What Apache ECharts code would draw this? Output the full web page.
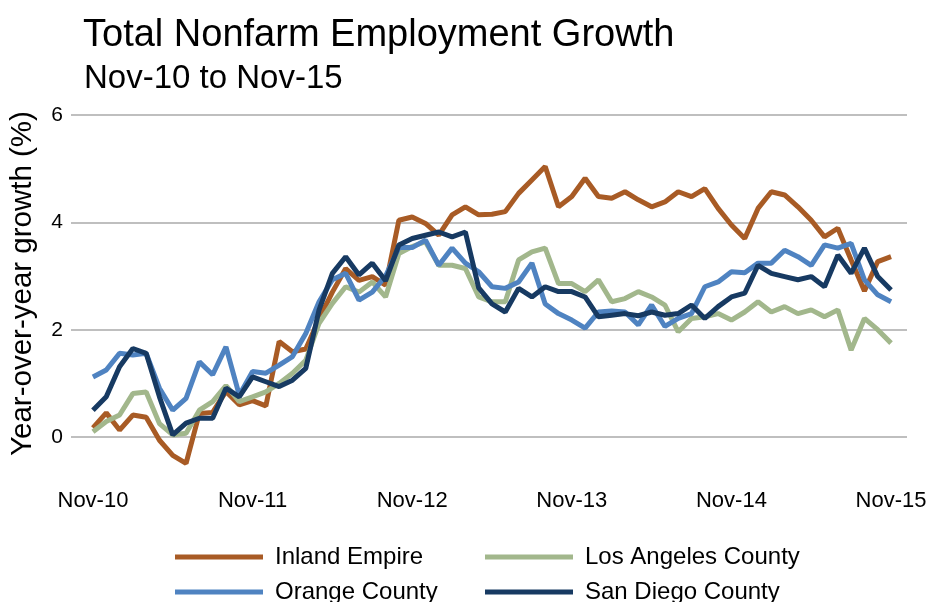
<!DOCTYPE html>
<html lang="en">
<head>
    <meta charset="UTF-8">
    <script src="https://cdn.jsdelivr.net/npm/echarts@6/dist/echarts.min.js"></script>
    <title>Total Nonfarm Employment Growth</title>
    <style>
        html, body { margin: 0; padding: 0; background: #fff; }
        #main { width: 931px; height: 602px; }
    </style>
</head>
<body>
<div id="main"></div>
<script type="text/javascript">
    // monthly, Nov-10 .. Nov-15 (61 points)
    var tickPos = [0, 12, 24, 36, 48, 60];
    var tickLabels = ['Nov-10', 'Nov-11', 'Nov-12', 'Nov-13', 'Nov-14', 'Nov-15'];
    var yTicks = [0, 2, 4, 6];

    var inlandEmpire = [0.17, 0.45, 0.13, 0.41, 0.37, -0.06, -0.34, -0.49, 0.44, 0.46, 0.85, 0.6, 0.68, 0.58, 1.78, 1.59, 1.64, 2.2, 2.7, 3.14, 2.92, 2.99, 2.83, 4.04, 4.1, 3.98, 3.76, 4.14, 4.29, 4.14, 4.15, 4.2, 4.54, 4.79, 5.04, 4.29, 4.48, 4.82, 4.48, 4.45, 4.57, 4.42, 4.29, 4.38, 4.57, 4.48, 4.63, 4.26, 3.95, 3.7, 4.26, 4.57, 4.51, 4.29, 4.04, 3.73, 3.89, 3.3, 2.72, 3.27, 3.36];
    var losAngeles = [0.1, 0.29, 0.41, 0.81, 0.84, 0.25, 0.04, 0.07, 0.5, 0.66, 0.96, 0.66, 0.75, 0.84, 1.0, 1.19, 1.43, 2.12, 2.49, 2.8, 2.7, 2.89, 2.61, 3.42, 3.55, 3.64, 3.2, 3.2, 3.14, 2.61, 2.52, 2.52, 3.3, 3.45, 3.52, 2.86, 2.86, 2.71, 2.93, 2.52, 2.58, 2.71, 2.61, 2.46, 1.96, 2.21, 2.24, 2.3, 2.18, 2.33, 2.52, 2.33, 2.43, 2.3, 2.37, 2.24, 2.37, 1.62, 2.21, 2.0, 1.75];
    var orangeCounty = [1.12, 1.25, 1.56, 1.53, 1.56, 0.91, 0.5, 0.72, 1.4, 1.16, 1.68, 0.78, 1.22, 1.19, 1.34, 1.5, 1.93, 2.52, 2.93, 3.05, 2.55, 2.7, 3.0, 3.53, 3.53, 3.67, 3.2, 3.52, 3.24, 3.08, 2.8, 2.77, 2.89, 3.24, 2.48, 2.3, 2.18, 2.03, 2.33, 2.35, 2.33, 2.09, 2.46, 2.06, 2.21, 2.3, 2.8, 2.89, 3.08, 3.06, 3.24, 3.24, 3.48, 3.36, 3.2, 3.58, 3.52, 3.61, 2.93, 2.65, 2.52];
    var sanDiego = [0.5, 0.75, 1.31, 1.65, 1.56, 0.75, 0.04, 0.26, 0.35, 0.35, 0.91, 0.75, 1.12, 1.03, 0.94, 1.06, 1.28, 2.37, 3.05, 3.36, 3.02, 3.24, 2.91, 3.58, 3.7, 3.76, 3.82, 3.73, 3.82, 2.78, 2.48, 2.33, 2.77, 2.61, 2.8, 2.71, 2.71, 2.61, 2.24, 2.27, 2.3, 2.26, 2.33, 2.27, 2.3, 2.46, 2.21, 2.43, 2.61, 2.68, 3.2, 3.05, 2.99, 2.93, 2.99, 2.8, 3.39, 3.05, 3.52, 2.99, 2.74];

    var FONT = 'Liberation Sans';

    function toPairs(arr) {
        return arr.map(function (v, i) { return [i, v]; });
    }

    function makeLine(name, data, color) {
        return {
            name: name,
            type: 'line',
            data: toPairs(data),
            symbol: 'none',
            lineStyle: { width: 5, color: color },
            itemStyle: { color: color },
            z: 3
        };
    }

    // one legend box per entry so the 2x2 block sits where the original has it
    function legendItem(name, left, top) {
        return {
            data: [name],
            left: left, top: top,
            icon: 'rect', itemWidth: 88, itemHeight: 5,
            textStyle: { fontSize: 24, color: '#000', fontFamily: FONT, padding: [0, 0, 0, 7] }
        };
    }

    var myChart = echarts.init(document.getElementById('main'));
    var option = {
        animation: false,
        backgroundColor: '#fff',
        textStyle: { fontFamily: FONT, color: '#000' },
        title: [
            {
                text: 'Total Nonfarm Employment Growth',
                left: 78, top: 12,
                textStyle: { fontSize: 38, fontWeight: 'normal', color: '#000', fontFamily: FONT }
            },
            {
                text: 'Nov-10 to Nov-15',
                left: 79, top: 57,
                textStyle: { fontSize: 33, fontWeight: 'normal', color: '#000', fontFamily: FONT }
            }
        ],
        legend: [
            legendItem('Inland Empire', 170, 540),
            legendItem('Orange County', 170, 575),
            legendItem('Los Angeles County', 480, 540),
            legendItem('San Diego County', 480, 575)
        ],
        grid: { left: 70, right: 24, top: 115, bottom: 122 },
        xAxis: {
            type: 'value',
            min: -1.65, max: 61.2,
            axisLine: { show: false },
            axisTick: { show: false },
            splitLine: { show: false },
            axisLabel: {
                customValues: tickPos,
                formatter: function (v) { return tickLabels[tickPos.indexOf(v)]; },
                fontSize: 22, color: '#000', margin: 10, fontFamily: FONT
            }
        },
        yAxis: {
            type: 'value',
            min: -0.8, max: 6,
            name: 'Year-over-year growth (%)',
            nameLocation: 'middle',
            nameRotate: 90,
            nameGap: 33,
            nameTextStyle: { fontSize: 29.5, color: '#000', fontFamily: FONT, padding: [0, 0, 0, 28] },
            axisLine: { show: false },
            axisTick: { show: false, customValues: yTicks },
            axisLabel: { customValues: yTicks, fontSize: 21, color: '#000', margin: 8, fontFamily: FONT },
            splitLine: { show: true, lineStyle: { color: '#aaaaaa', width: 1.5 } }
        },
        series: [
            makeLine('Inland Empire', inlandEmpire, '#a85b25'),
            makeLine('Los Angeles County', losAngeles, '#a2b78c'),
            makeLine('Orange County', orangeCounty, '#4f83c1'),
            makeLine('San Diego County', sanDiego, '#173a62')
        ]
    };
    myChart.setOption(option);
</script>
</body>
</html>
